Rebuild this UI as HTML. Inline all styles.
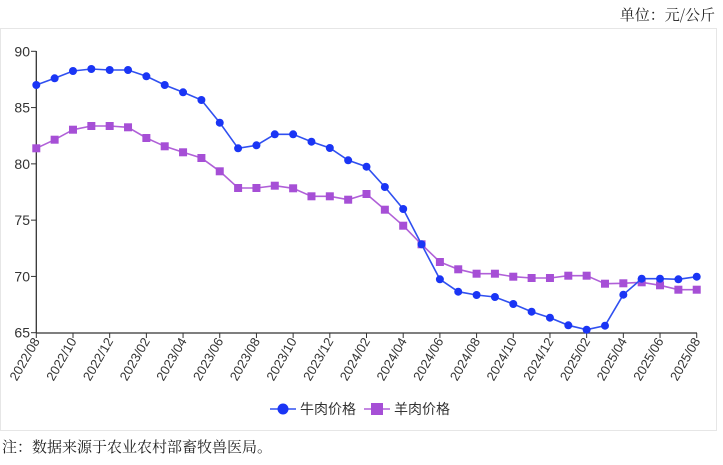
<!DOCTYPE html>
<html><head><meta charset="utf-8"><style>
body{margin:0;background:#fff;width:723px;height:460px;overflow:hidden}
svg text{font-family:"Liberation Sans","Noto Sans CJK SC",sans-serif}
</style></head><body>
<svg id="s" width="723" height="460" xmlns="http://www.w3.org/2000/svg">
<text x="715" y="20" text-anchor="end" font-size="15" fill="#222" style="font-family:'Noto Serif CJK SC',serif">单位：元/公斤</text>
<rect x="0.5" y="28.5" width="716" height="402" fill="#fff" stroke="#e6e6e6"/>
<text x="2" y="452" font-size="15" fill="#222" style="font-family:'Noto Serif CJK SC',serif">注：数据来源于农业农村部畜牧兽医局。</text>
<g id="g"></g>
</svg>
<script>
var g=document.getElementById('g'),h='';
var x0=36.3,st=18.345,yTop=51.3,yBot=332.7;
for(var v=65;v<=90;v+=5){var y=yBot-(v-65)*(yBot-yTop)/25;
h+='<line x1="31" x2="36.3" y1="'+y+'" y2="'+y+'" stroke="#333"/>';
h+='<text x="30" y="'+(y+5)+'" text-anchor="end" font-size="14" fill="#333">'+v+'</text>';}
h+='<line x1="36.3" x2="36.3" y1="51" y2="333" stroke="#333" stroke-width="1.3"/>';
h+='<line x1="36.3" x2="697" y1="333" y2="333" stroke="#333" stroke-width="1.3"/>';
var labs=['2022/08','2022/10','2022/12','2023/02','2023/04','2023/06','2023/08','2023/10','2023/12','2024/02','2024/04','2024/06','2024/08','2024/10','2024/12','2025/02','2025/04','2025/06','2025/08'];
for(var i=0;i<labs.length;i++){var x=x0+i*2*st;
h+='<line x1="'+x+'" x2="'+x+'" y1="333" y2="338" stroke="#333"/>';
h+='<text transform="translate('+(x+4)+',341) rotate(-60)" text-anchor="end" font-size="13" fill="#333">'+labs[i]+'</text>';}
var b=[85,78.3,71,69,70,70,76.3,85,92.3,100,122.7,148.3,145.3,134.3,134.3,141.7,148,160.3,166.7,187,209,244.3,279.3,291.7,295,297,304,311.7,317.7,325.3,329.7,325.7,294.7,278.7,278.7,279.3,276.7];
var m=[148.3,139.7,129.7,126,126,127.3,138,146.3,152.3,158,171.3,188,188,185.7,188.3,196.3,196.3,199.7,194,209.7,225.7,244.3,262,269.3,273.7,273.7,276.7,278,278,275.7,275.7,283.7,283.3,282.3,285.3,289.7,289.7];
function pts(a){return a.map(function(y,i){return (x0+i*st).toFixed(1)+','+y}).join(' ');}
h+='<polyline points="'+pts(m)+'" fill="none" stroke="#b060d8" stroke-width="1.6"/>';
m.forEach(function(y,i){h+='<rect x="'+(x0+i*st-4)+'" y="'+(y-4)+'" width="8" height="8" fill="#a64fd6"/>';});
h+='<polyline points="'+pts(b)+'" fill="none" stroke="#3050f0" stroke-width="1.6"/>';
b.forEach(function(y,i){h+='<circle cx="'+(x0+i*st)+'" cy="'+y+'" r="4" fill="#1a35f5"/>';});
h+='<line x1="270" x2="296" y1="409" y2="409" stroke="#3050f0" stroke-width="1.6"/><circle cx="283" cy="409" r="5.5" fill="#1a35f5"/>';
h+='<text x="300" y="414" font-size="14" fill="#333">牛肉价格</text>';
h+='<line x1="364" x2="390" y1="409" y2="409" stroke="#b060d8" stroke-width="1.6"/><rect x="371" y="403" width="12" height="12" fill="#a64fd6"/>';
h+='<text x="394" y="414" font-size="14" fill="#333">羊肉价格</text>';
g.innerHTML=h;
</script>
</body></html>
